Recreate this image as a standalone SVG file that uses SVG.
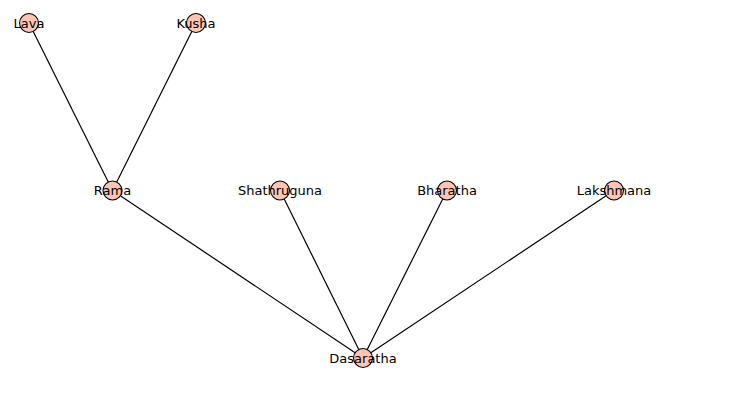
<svg xmlns="http://www.w3.org/2000/svg" width="735" height="406" viewBox="0 0 735 406">
<style>
.e{stroke:#000;stroke-width:1.2;fill:none}
.n circle{fill:#fdc5b3;stroke:#000;stroke-width:1.1}
.n text{font-family:"DejaVu Sans",sans-serif;font-size:13px;fill:#000;text-anchor:middle;dominant-baseline:central}
</style>
<rect width="735" height="406" fill="#fff"/>
<g id="edges">
<line class="e" x1="29" y1="23" x2="112.5" y2="190.5"/>
<line class="e" x1="196" y1="23" x2="112.5" y2="190.5"/>
<line class="e" x1="112.5" y1="190.5" x2="363" y2="358"/>
<line class="e" x1="280" y1="190.5" x2="363" y2="358"/>
<line class="e" x1="447" y1="190.5" x2="363" y2="358"/>
<line class="e" x1="614" y1="190.5" x2="363" y2="358"/>
</g>
<g id="lava" class="n"><circle cx="29" cy="23" r="9.5"/><text x="29" y="23">Lava</text></g>
<g id="kusha" class="n"><circle cx="196" cy="23" r="9.5"/><text x="196" y="23">Kusha</text></g>
<g id="rama" class="n"><circle cx="112.5" cy="190.5" r="9.5"/><text x="112.5" y="190.5">Rama</text></g>
<g id="shathruguna" class="n"><circle cx="280" cy="190.5" r="9.5"/><text x="280" y="190.5">Shathruguna</text></g>
<g id="bharatha" class="n"><circle cx="447" cy="190.5" r="9.5"/><text x="447" y="190.5">Bharatha</text></g>
<g id="lakshmana" class="n"><circle cx="614" cy="190.5" r="9.5"/><text x="614" y="190.5">Lakshmana</text></g>
<g id="dasaratha" class="n"><circle cx="363" cy="358" r="9.5"/><text x="363" y="358">Dasaratha</text></g>
</svg>
